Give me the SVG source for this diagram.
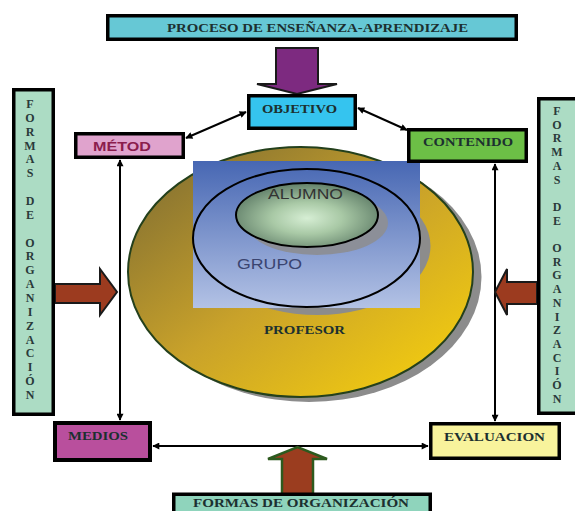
<svg xmlns="http://www.w3.org/2000/svg" width="575" height="511" viewBox="0 0 575 511">
<defs>
<style>
.box{stroke:#000;stroke-width:3.5}
.lbl{font-family:"Liberation Serif","Times New Roman",serif;font-weight:bold;font-size:12px;fill:#1c3030;text-anchor:middle}
.vt{font-family:"Liberation Serif","Times New Roman",serif;font-weight:bold;font-size:12px;fill:#2a3a3a;text-anchor:middle}
.sans{font-family:"Liberation Sans",Arial,sans-serif}
.conn{stroke:#000;stroke-width:2;fill:none;marker-start:url(#ah);marker-end:url(#ah)}
.bigarrow{stroke:#1a1a1a;stroke-width:2}
</style>
<marker id="ah" viewBox="0 0 10 10" refX="9" refY="5" markerWidth="8" markerHeight="7" markerUnits="userSpaceOnUse" orient="auto-start-reverse">
<path d="M0,0 L10,5 L0,10 z" fill="#000"/>
</marker>
<linearGradient id="gProf" x1="0" y1="0" x2="1" y2="1">
<stop offset="0" stop-color="#786833"/>
<stop offset="0.5" stop-color="#c9a22a"/>
<stop offset="1" stop-color="#fbd40a"/>
</linearGradient>
<linearGradient id="gBlue" x1="0" y1="0" x2="0" y2="1">
<stop offset="0" stop-color="#4767b3"/>
<stop offset="1" stop-color="#b3c2e5"/>
</linearGradient>
<radialGradient id="gAl" cx="0.5" cy="0.55" r="0.55">
<stop offset="0" stop-color="#d6eed4"/>
<stop offset="0.45" stop-color="#a9c9a6"/>
<stop offset="1" stop-color="#62806a"/>
</radialGradient>
</defs>

<g id="circulos">
<ellipse cx="309" cy="277" rx="172.5" ry="125" fill="#8c8c8c"/>
<ellipse cx="300.5" cy="272" rx="172.5" ry="125" fill="url(#gProf)" stroke="#24401c" stroke-width="2"/>
<ellipse cx="317" cy="246" rx="113.5" ry="69" fill="#8c8c8c"/>
<rect x="193" y="161" width="227" height="147" fill="url(#gBlue)"/>
<ellipse cx="306.5" cy="238" rx="113.5" ry="69" fill="none" stroke="#000" stroke-width="2"/>
<ellipse cx="317" cy="223" rx="71" ry="32" fill="#8c8f98"/>
<ellipse cx="307" cy="215" rx="71" ry="32" fill="url(#gAl)" stroke="#000" stroke-width="2"/>
<text class="sans" x="305.5" y="199" font-size="15" fill="#333" text-anchor="middle" textLength="75" lengthAdjust="spacingAndGlyphs">ALUMNO</text>
<text class="sans" x="237" y="269" font-size="15" fill="#3a4470" textLength="65" lengthAdjust="spacingAndGlyphs">GRUPO</text>
<text class="lbl" x="304.5" y="334" fill="#2a1f10" textLength="81" lengthAdjust="spacingAndGlyphs">PROFESOR</text>
</g>

<g id="connectors">
<line class="conn" x1="186" y1="138" x2="246" y2="112"/>
<line class="conn" x1="358" y1="108" x2="407" y2="130"/>
<line class="conn" x1="120" y1="420" x2="120" y2="160"/>
<line class="conn" x1="495" y1="164" x2="495" y2="421"/>
<line class="conn" x1="153" y1="446" x2="428" y2="446"/>
</g>

<g id="flechas">
<polygon class="bigarrow" points="276,48 318,48 318,84 337,84 297,94 257,84 276,84" fill="#7d2a80"/>
<polygon class="bigarrow" points="55,284 100,284 100,269 117,292 100,315 100,303 55,303" fill="#9c3b1f"/>
<polygon class="bigarrow" points="537,282 507,282 507,269 495,292 507,315 507,304 537,304" fill="#9c3b1f"/>
<polygon points="282,497 282,459 268,459 297.5,447 327,459 313,459 313,497" fill="#9b3d1f" stroke="#2d5a1e" stroke-width="2.5"/>
</g>

<g id="proceso">
<rect class="box" x="107.75" y="15.75" width="408.5" height="23.5" fill="#66c8d5"/>
<text class="lbl" x="317.5" y="32" font-size="12" textLength="301" lengthAdjust="spacingAndGlyphs">PROCESO DE ENSEÑANZA-APRENDIZAJE</text>
</g>

<g id="objetivo">
<rect class="box" x="248.75" y="95.75" width="106.5" height="32.5" fill="#35c4ef"/>
<text class="lbl" x="299.5" y="113" textLength="75" lengthAdjust="spacingAndGlyphs">OBJETIVO</text>
</g>

<g id="metodo">
<rect class="box" x="75.75" y="133.75" width="107.5" height="23.5" fill="#e0a3cd"/>
<text class="sans" x="93" y="151" font-size="13" font-weight="bold" fill="#8b1d4d" textLength="58" lengthAdjust="spacingAndGlyphs">MÉTOD</text>
</g>

<g id="contenido">
<rect class="box" x="408.75" y="129.75" width="117.5" height="31.5" fill="#6cbf46"/>
<text class="lbl" x="468" y="146" textLength="90" lengthAdjust="spacingAndGlyphs">CONTENIDO</text>
</g>

<g id="medios">
<rect x="55" y="423" width="95" height="37" fill="#b94f9d" stroke="#000" stroke-width="4"/>
<text class="lbl" x="98" y="440" fill="#5c0f3c" textLength="60" lengthAdjust="spacingAndGlyphs">MEDIOS</text>
</g>

<g id="evaluacion">
<rect class="box" x="430.75" y="423.75" width="128.5" height="34.5" fill="#f8f39c"/>
<text class="lbl" x="494.5" y="441" textLength="101" lengthAdjust="spacingAndGlyphs">EVALUACION</text>
</g>

<g id="formas-abajo">
<rect class="box" x="173.75" y="494.25" width="256.5" height="24" fill="#8fd4bc" stroke-width="3"/>
<text class="lbl" x="301" y="506.5" font-size="11" textLength="216" lengthAdjust="spacingAndGlyphs">FORMAS DE ORGANIZACIÓN</text>
</g>

<g id="formas-izquierda">
<rect class="box" x="13.75" y="89.75" width="39.5" height="324.5" fill="#acdcc4"/>
<text class="vt" x="30"><tspan x="30" y="108">F</tspan><tspan x="30" y="122">O</tspan><tspan x="30" y="135.7">R</tspan><tspan x="30" y="149.5">M</tspan><tspan x="30" y="163.4">A</tspan><tspan x="30" y="177.3">S</tspan><tspan x="30" y="205">D</tspan><tspan x="30" y="218.9">E</tspan><tspan x="30" y="246.5">O</tspan><tspan x="30" y="260.4">R</tspan><tspan x="30" y="274.2">G</tspan><tspan x="30" y="288">A</tspan><tspan x="30" y="301.9">N</tspan><tspan x="30" y="315.8">I</tspan><tspan x="30" y="329.6">Z</tspan><tspan x="30" y="343.5">A</tspan><tspan x="30" y="357.3">C</tspan><tspan x="30" y="371.2">I</tspan><tspan x="30" y="385">Ó</tspan><tspan x="30" y="399">N</tspan></text>
</g>

<g id="formas-derecha">
<rect class="box" x="538.75" y="98.75" width="40" height="314.5" fill="#acdcc4"/>
<text class="vt" x="557"><tspan x="557" y="115">F</tspan><tspan x="557" y="128.7">O</tspan><tspan x="557" y="142.4">R</tspan><tspan x="557" y="156.1">M</tspan><tspan x="557" y="169.8">A</tspan><tspan x="557" y="183.5">S</tspan><tspan x="557" y="210.9">D</tspan><tspan x="557" y="224.6">E</tspan><tspan x="557" y="252">O</tspan><tspan x="557" y="265.7">R</tspan><tspan x="557" y="279.4">G</tspan><tspan x="557" y="293.1">A</tspan><tspan x="557" y="306.8">N</tspan><tspan x="557" y="320.5">I</tspan><tspan x="557" y="334.2">Z</tspan><tspan x="557" y="347.9">A</tspan><tspan x="557" y="361.6">C</tspan><tspan x="557" y="375.3">I</tspan><tspan x="557" y="389">Ó</tspan><tspan x="557" y="402.7">N</tspan></text>
</g>
</svg>
